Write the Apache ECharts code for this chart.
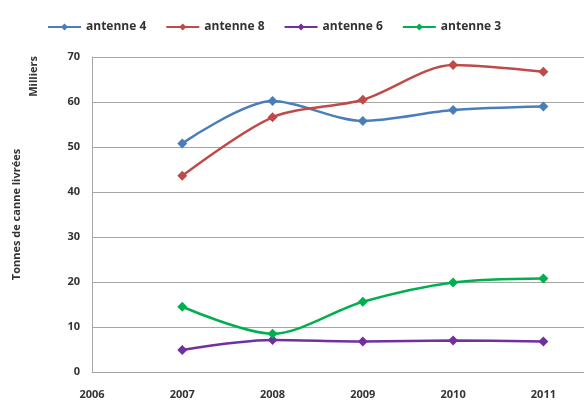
<!DOCTYPE html>
<html>
<head>
<meta charset="utf-8">
<script src="https://cdn.jsdelivr.net/npm/echarts@6/dist/echarts.min.js"></script>
<style>
  html, body { margin: 0; padding: 0; background: #fff; }
  #chart { width: 584px; height: 408px; }
</style>
</head>
<body>
<div id="chart"></div>
<script>
// années (axe x)
var years = [2007, 2008, 2009, 2010, 2011];
// tonnes de canne livrées, en milliers
var antenne4 = [50.8, 60.2, 55.8, 58.2, 59.0];
var antenne8 = [43.6, 56.6, 60.5, 68.2, 66.7];
var antenne6 = [4.9, 7.1, 6.8, 7.0, 6.8];
var antenne3 = [14.5, 8.5, 15.6, 19.9, 20.8];

function pairs(vals) {
    return years.map(function (y, i) { return [y, vals[i]]; });
}

var chartDom = document.getElementById('chart');
var myChart = echarts.init(chartDom);

var font = '"Open Sans", "Liberation Sans", sans-serif';

function serie(name, color, vals) {
    return {
        name: name,
        type: 'line',
        smooth: 0.3,
        symbol: 'diamond',
        symbolSize: 10,
        lineStyle: { width: 2.5, color: color },
        itemStyle: { color: color },
        data: pairs(vals)
    };
}

var option = {
    animation: false,
    legend: {
        top: 16,
        left: 42,
        itemWidth: 33,
        itemHeight: 9,
        itemGap: 19,
        textStyle: { fontFamily: font, fontWeight: 'bold', fontSize: 12, color: '#333' },
        data: ['antenne 4', 'antenne 8', 'antenne 6', 'antenne 3']
    },
    grid: { left: 92, right: 0, top: 57, bottom: 36 },
    xAxis: {
        type: 'value',
        min: 2006,
        max: 2011.45,
        interval: 1,
        splitLine: { show: false },
        axisLine: { lineStyle: { color: '#a6a6a6' } },
        axisTick: { show: false },
        axisLabel: {
            showMaxLabel: false,
            margin: 17,
            formatter: function (v) { return String(v); },
            fontFamily: font, fontWeight: 'bold', fontSize: 11, color: '#333'
        }
    },
    yAxis: {
        type: 'value',
        min: 0,
        max: 70,
        interval: 10,
        name: 'Tonnes de canne livrées',
        nameLocation: 'middle',
        nameGap: 70,
        nameTextStyle: { fontFamily: font, fontWeight: 'bold', fontSize: 11, color: '#333' },
        axisLine: { show: true, lineStyle: { color: '#a6a6a6' } },
        axisTick: { show: false },
        splitLine: { lineStyle: { color: '#a6a6a6', width: 1 } },
        axisLabel: { margin: 12, fontFamily: font, fontWeight: 'bold', fontSize: 11, color: '#333' }
    },
    graphic: [{
        type: 'text',
        left: 28,
        top: 56,
        rotation: Math.PI / 2,
        style: {
            text: 'Milliers',
            font: 'bold 11px ' + font,
            fill: '#333'
        }
    }],
    series: [
        serie('antenne 4', '#4a7ebb', antenne4),
        serie('antenne 8', '#be4b48', antenne8),
        serie('antenne 6', '#7030a0', antenne6),
        serie('antenne 3', '#00b050', antenne3)
    ]
};

myChart.setOption(option);
</script>
</body>
</html>
